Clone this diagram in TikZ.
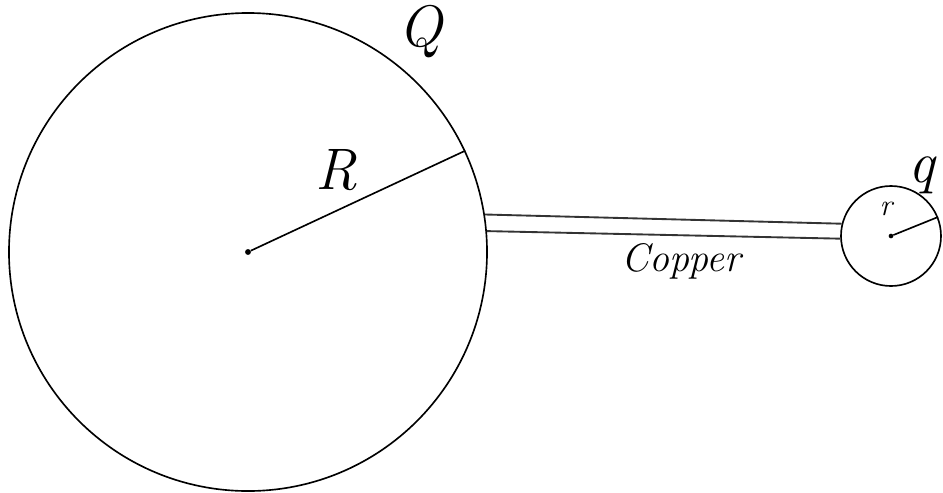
\documentclass[tikz,border=0pt]{standalone}
\usepackage{tikz}
\usetikzlibrary{positioning}
\tikzset{
  sphere/.style={circle, draw=black, line width=1.4pt, inner sep=0pt},
  wire/.style={line width=1.6pt, color=black!80},
  radline/.style={line width=1.4pt, color=black},
  centdot/.style={circle, fill=black, inner sep=0pt, minimum size=5pt},
  biglbl/.style={font=\fontsize{50}{52}\selectfont\itshape},
  midlbl/.style={font=\fontsize{34}{36}\selectfont\itshape, text=black},
  smlbl/.style={font=\fontsize{26}{28}\selectfont\itshape}
}

\begin{document}
\begin{tikzpicture}[x=0.03cm, y=-0.03cm]
  \useasboundingbox (0,0) rectangle (943,492);
  \node[sphere, minimum size=14.34cm] (big) at (248,252) {};
  \node[sphere, minimum size=3cm] (small) at (891,236) {};
  \node[centdot] (bigc) at (big.center) {};
  \node[centdot, minimum size=4pt] (smallc) at (small.center) {};

  \draw[radline] (bigc) -- node[biglbl, pos=0.4, above=0.45cm]{R} (big.25);
  \draw[radline] (smallc) -- (small.22);
  \draw[wire] (big.9) -- (small.166);
  \draw[wire] (big.5.5) -- node[midlbl, pos=0.55, below=0.1cm]{Copper} (small.183);

  \node[biglbl, above=0.6cm of big.45, xshift=0.1cm] (Qlbl) {Q};
  \node[biglbl, above=0.05cm of small.45, xshift=-0.15cm] (qlbl) {q};
  \node[smlbl, above=0.4cm of smallc, xshift=-0.15cm] (rlbl) {r};
\end{tikzpicture}
\end{document}
